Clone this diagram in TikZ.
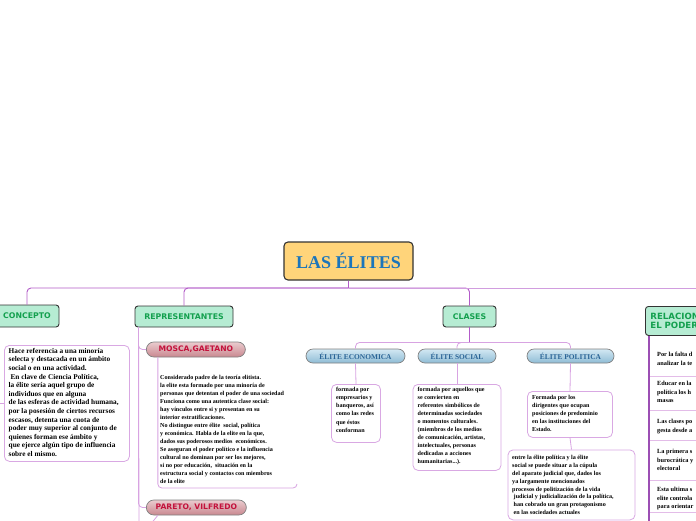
\documentclass[tikz,border=0pt]{standalone}
\usepackage{fontspec}
\setmainfont{Liberation Serif}
\newfontfamily\hd{DejaVu Sans}
\usetikzlibrary{shapes.misc,calc}
\definecolor{mainln}{HTML}{B35BC9}
\definecolor{subln}{HTML}{D8A3E2}
\definecolor{boxln}{HTML}{D9A8E3}
\definecolor{titlefill}{HTML}{FFD47A}
\definecolor{titletxt}{HTML}{1B75BB}
\definecolor{hdfill}{HTML}{B6ECD3}
\definecolor{hdtxt}{HTML}{13A04E}
\definecolor{redtxt}{HTML}{C3123C}
\definecolor{bluetxt}{HTML}{2A6496}
\definecolor{relln}{HTML}{9C4FB4}
\definecolor{sepln}{HTML}{E3BCE8}
\definecolor{redtop}{HTML}{EACBCE}
\definecolor{redbot}{HTML}{C98890}
\definecolor{bluetop}{HTML}{D3E8F3}
\definecolor{bluebot}{HTML}{8EBCD5}
\tikzset{
  conn/.style={draw=mainln, line width=0.9pt, rounded corners=4pt},
  subconn/.style={draw=subln, line width=0.8pt, rounded corners=4pt},
  hdbox/.style={draw=black!80, fill=hdfill, line width=0.9pt, rounded corners=3pt,
     font=\hd\bfseries\fontsize{7.8}{9}\selectfont, text=hdtxt, inner sep=0pt},
  pill/.style={rounded rectangle, draw=black!50, line width=0.7pt, inner sep=0pt},
  redpill/.style={pill, top color=redtop, bottom color=redbot,
     font=\hd\bfseries\fontsize{7.6}{9}\selectfont, text=redtxt},
  bluepill/.style={pill, top color=bluetop, bottom color=bluebot,
     font=\bfseries\fontsize{7.4}{9}\selectfont, text=bluetxt},
  tbox/.style={draw=boxln, fill=white, line width=0.8pt, rounded corners=5pt, inner sep=0pt},
  txt/.style={inner sep=0pt, align=left, anchor=north west},
}
\begin{document}
\begin{tikzpicture}[x=1pt,y=-1pt]
\useasboundingbox (0,0) rectangle (696,520);
\clip (0,0) rectangle (696,520);
\fill[white] (0,0) rectangle (696,520);

% title
\node[draw=black!80, fill=titlefill, line width=1.1pt, rounded corners=4pt,
  minimum width=129, minimum height=38, inner sep=0pt,
  font=\bfseries\fontsize{18}{20}\selectfont, text=titletxt] (title) at (348.5,261) {LAS ÉLITES};
\coordinate (hub) at (348.5,288);
\coordinate (rightend) at (700,288);

% headers
\node[hdbox, minimum width=64, minimum height=22] (concepto) at (27,316) {CONCEPTO};
\node[hdbox, minimum width=98, minimum height=21] (rep) at (184,316.5) {REPRESENTANTES};
\node[hdbox, minimum width=53, minimum height=21] (clases) at (469.5,316.5) {CLASES};
\node[hdbox, minimum width=90, minimum height=29, anchor=north west, align=left,
  text width=80, font=\hd\bfseries\fontsize{8.6}{9.4}\selectfont] (rel) at (645,306) {RELACIONES\\EL PODER};

\draw[conn] (title.south) -- (hub);
\draw[conn] (hub) -| (concepto.north);
\draw[conn] (hub) -| (rep.north);
\draw[conn] (hub) -| (clases.north);
\draw[conn, draw=mainln!60] (hub) -- (rightend);

% concepto
\node[tbox, minimum width=125, minimum height=116, anchor=north west] (cbox) at (4,345) {};
\node[txt, font=\bfseries\fontsize{7.3}{8.6}\selectfont] (ctext) at (8.5,348) {Hace referencia a una minoría\\
selecta y destacada en un ámbito\\
social o en una actividad.\\
\ En clave de Ciencia Política,\\
la élite sería aquel grupo de\\
individuos que en alguna\\
de las esferas de actividad humana,\\
por la posesión de ciertos recursos\\
escasos, detenta una cuota de\\
poder muy superior al conjunto de\\
quienes forman ese ámbito y\\
que ejerce algún tipo de influencia\\
sobre el mismo.};
\draw[subconn] ($(concepto.south west)+(-3,0)$) |- (cbox.west);

% representantes
\node[redpill, minimum width=99, minimum height=15, anchor=west] (mosca) at (146,349.5) {MOSCA,GAETANO};
\node[redpill, minimum width=100, minimum height=15, anchor=west] (pareto) at (146,507.5) {PARETO, VILFREDO};
\coordinate (repbot) at (139,525);
\draw[subconn] ($(rep.south west)+(4,0)$) -- (repbot);
\draw[subconn] ($(rep.south west)+(4,0)$) |- (mosca.west);
\draw[subconn] ($(rep.south west)+(4,0)$) |- (pareto.west);
\coordinate (mline) at (297,488);
\draw[subconn] ($(mosca.south west)+(4,0)$) |- (mline) -- ++(0,-4);
\coordinate (pbot) at (150,525);
\draw[subconn] ($(pareto.south west)+(4,0)$) -- (pbot);
\node[txt, font=\bfseries\fontsize{6.1}{8}\selectfont] (mtext) at (160,375) {Considerado padre de la teoría elitista.\\
la elite esta formado por una minoría de\\
personas que detentan el poder de una sociedad\\
Funciona como una autentica clase social:\\
hay vínculos entre si y presentan en su\\
interior estratificaciones.\\
No distingue entre élite \ social, política\\
y económica. Habla de la elite en la que,\\
dados sus poderosos medios \ económicos.\\
Se aseguran el poder político e la influencia\\
cultural no dominan por ser los mejores,\\
si no por educación, \ situación en la\\
estructura social y contactos con miembros\\
de la elite};

% clases
\node[bluepill, minimum width=99, minimum height=14] (econ) at (355.5,356) {ÉLITE ECONOMICA};
\node[bluepill, minimum width=78, minimum height=14] (social) at (457,356) {ÉLITE SOCIAL};
\node[bluepill, minimum width=87, minimum height=14] (pol) at (570.5,356) {ÉLITE POLITICA};
\coordinate (cj) at (469.5,342.5);
\draw[conn] (clases.south) -- (cj);
\draw[subconn] (cj) -| (econ.north);
\draw[subconn] (cj) -| (social.north);
\draw[subconn] (cj) -| (pol.north);

\node[tbox, minimum width=49, minimum height=58, anchor=north] (ebox) at (356,384) {};
\node[txt, font=\bfseries\fontsize{6.1}{8.3}\selectfont] (etext) at (336,386.5) {formada por\\
empresarios y\\
banqueros, así\\
como las redes\\
que éstos\\
conforman};
\draw[subconn] (econ.south) -- (ebox.north);

\node[tbox, minimum width=88, minimum height=86, anchor=north] (sbox) at (457,384) {};
\node[txt, font=\bfseries\fontsize{6.1}{8}\selectfont] (stext) at (417.5,386.5) {formada por aquellos que\\
se convierten en\\
referentes simbólicos de\\
determinadas sociedades\\
o momentos culturales.\\
(miembros de los medios\\
de comunicación, artistas,\\
intelectuales, personas\\
dedicadas a acciones\\
humanitarias...).};
\draw[subconn] (social.south) -- (sbox.north);

\node[tbox, minimum width=85, minimum height=46, anchor=north] (pbox) at (570,391) {};
\node[txt, font=\bfseries\fontsize{6.1}{8}\selectfont] (ptext) at (532,395) {Formada por los\\
dirigentes que ocupan\\
posiciones de predominio\\
en las instituciones del\\
Estado.};
\draw[subconn] (pol.south) -- (pbox.north);

\node[tbox, minimum width=127, minimum height=70, anchor=north] (lbox) at (571.5,449.5) {};
\node[txt, font=\bfseries\fontsize{6.1}{7.9}\selectfont] (ltext) at (512,455) {entre la élite política y la élite\\
social se puede situar a la cúpula\\
del aparato judicial que, dados los\\
ya largamente mencionados\\
procesos de politización de la vida\\
\ judicial y judicialización de la política,\\
\ han cobrado un gran protagonismo\\
\ en las sociedades actuales};
\draw[subconn] (pbox.south) -- (lbox.north);

% relaciones
\coordinate (relbot) at (649,525);
\draw[draw=relln, line width=1.6pt] ($(rel.south west)+(4,0)$) -- (relbot);
\foreach \y/\n in {376/s1,410/s2,440/s3,480/s4,512/s5}{
  \coordinate (\n a) at (650,\y); \coordinate (\n b) at (700,\y);
  \draw[draw=sepln, line width=0.8pt] (\n a) -- (\n b);
}
\tikzset{rtxt/.style={txt, font=\bfseries\fontsize{6.3}{8.6}\selectfont}}
\node[rtxt] (r1) at (657,352) {Por la falta d\\analizar la te};
\node[rtxt] (r2) at (657,381) {Educar en la\\política los h\\masas};
\node[rtxt] (r3) at (657,419) {Las clases po\\gesta desde a};
\node[rtxt] (r4) at (657,449) {La primera s\\burocrática y\\electoral};
\node[rtxt] (r5) at (657,487) {Esta ultima s\\elite controla\\para orientar};
\end{tikzpicture}
\end{document}
